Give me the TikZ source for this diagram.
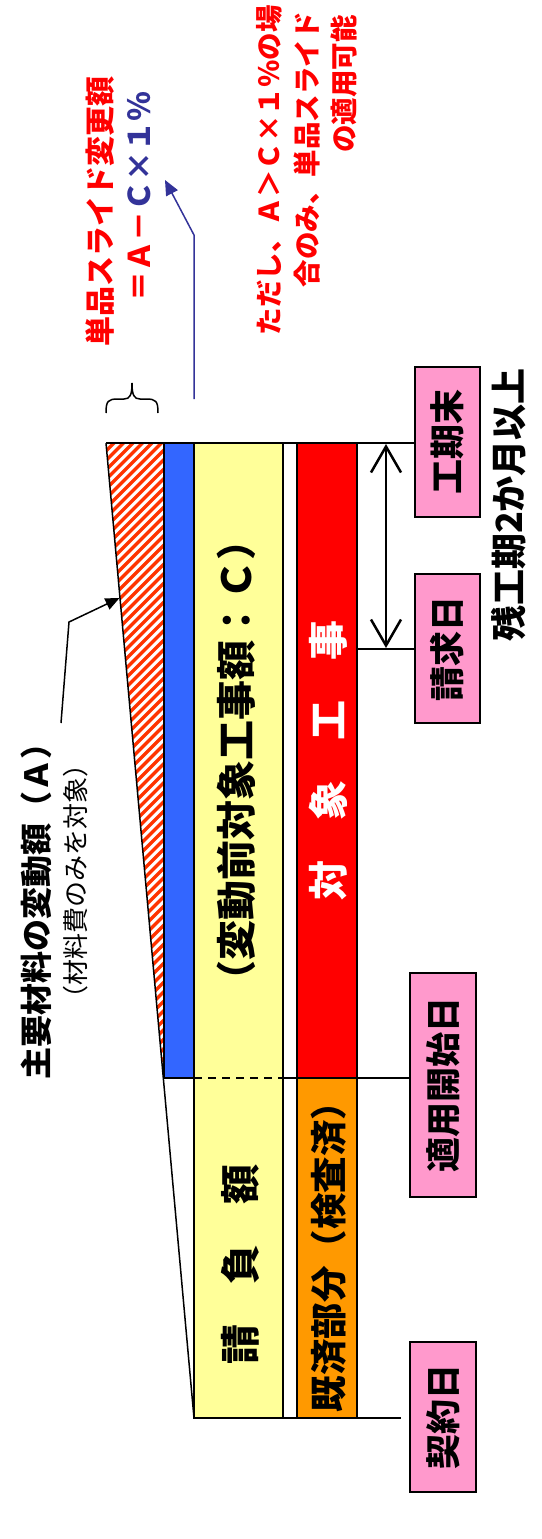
\documentclass[tikz,border=0pt]{standalone}
\usepackage{fontspec}
\IfFontExistsTF{Noto Sans CJK JP Black}
  {\setmainfont{Noto Sans CJK JP}[BoldFont={Noto Sans CJK JP Black}]}
  {\setmainfont{Noto Sans CJK JP}[BoldFont={Noto Sans CJK JP Bold}]}
\usetikzlibrary{arrows.meta}
\definecolor{barblue}{HTML}{3366FF}
\definecolor{baryellow}{HTML}{FFFF99}
\definecolor{barred}{HTML}{FF0000}
\definecolor{barorange}{HTML}{FF9900}
\definecolor{boxpink}{HTML}{FF99CC}
\definecolor{navyblue}{HTML}{333399}
\definecolor{hatchred}{HTML}{FF3300}
\newcommand\jfs[1]{\fontsize{#1pt}{#1pt}\selectfont}
\begin{document}
\begin{tikzpicture}[x=1pt,y=-1pt,
  vt/.style={rotate=90,inner sep=0pt},
  bar/.style={draw=black,line width=2pt},
  tickline/.style={draw=black,line width=2.5pt},
  pinkbox/.style={rotate=90,draw=black,line width=1.5pt,fill=boxpink,inner sep=0pt,font=\bfseries\jfs{35}},
  rednote/.style={vt,anchor=east,font=\bfseries\jfs{27.5},text=red},
  periodarrow/.style={line width=2.5pt,{Straight Barb[length=26pt,width=30pt]}-{Straight Barb[length=26pt,width=30pt]}}
]
\useasboundingbox (0,0) rectangle (541,1539);
\fill[white] (0,0) rectangle (541,1539);

% key coordinates
\coordinate (TL) at (106,443);
\coordinate (BL) at (194,1418);
\coordinate (HB) at (163.3,1078);

% hatched wedge
\begin{scope}
\clip (TL) -- (164,443) -- (HB) -- cycle;
\foreach \k in {0,...,82}{\draw[hatchred,line width=3.4pt] (95,{443+\k*9.5}) -- ++(90,-90);}
\end{scope}

% bars
\draw[bar,fill=barblue] (164,443) rectangle (194,1078);
\draw[bar,fill=baryellow] (194,443) rectangle (283,1418);
\draw[bar,fill=barred] (297,443) rectangle (357,1078);
\draw[bar,fill=barorange] (297,1078) rectangle (357,1418);
\draw[black,line width=1.8pt,dash pattern=on 8pt off 6pt] (194,1078) -- (283,1078);
\draw[line width=1.5pt] (TL) -- (BL);

% pink date boxes
\node[pinkbox,minimum width=150pt,minimum height=65pt] (kouki) at (447.5,442) {工期末};
\node[pinkbox,minimum width=149pt,minimum height=65pt] (seikyu) at (447.5,648.5) {請求日};
\node[pinkbox,minimum width=224pt,minimum height=66pt] (tekiyo) at (443,1085) {適用開始日};
\node[pinkbox,minimum width=150pt,minimum height=66pt] (keiyaku) at (443,1417) {契約日};

% tick lines
\coordinate (kyEnd) at (401,1418);
\draw[tickline] (TL) -- (kouki.north |- TL);
\draw[tickline] (357,649) -- (seikyu.north |- 0,649);
\draw[tickline] (283,1078) -- (tekiyo.north |- 0,1078);
\draw[tickline] (283,1418) -- (kyEnd);

% period arrow
\coordinate (pTop) at (386,444);
\coordinate (pBot) at (386,648);
\draw[periodarrow] (pTop) -- (pBot);
\node[vt,font=\bfseries\jfs{36}] (zan) at (509,505) {残工期2か月以上};

% bar texts
\node[vt,font=\bfseries\jfs{40}] (cText) at (236,760) {（変動前対象工事額：Ｃ）};
\node[vt,font=\bfseries\jfs{40}] (ukeoi) at (240,1264) {請　負　額};
\node[vt,font=\bfseries\jfs{40},text=white] (taisho) at (328,760) {対　象　工　事};
\node[vt,font=\bfseries\jfs{36.5}] (kisai) at (329,1248) {既済部分（検査済）};

% material change label and arrow
\node[vt,font=\bfseries\jfs{32}] (matA) at (36,903) {主要材料の変動額（Ａ）};
\node[vt,font=\jfs{26}] (matNote) at (76,881) {（材料費のみを対象）};
\coordinate (aS) at (61,723);
\coordinate (aB) at (69,622);
\coordinate (aT) at (119.5,598);
\draw[line width=1.5pt,-{Triangle[length=14pt,width=12pt]}] (aS) -- (aB) -- (aT);

% brace
\draw[line width=1.5pt] (106,413) .. controls (106,401) and (108,399) .. (118,399) -- (124,399) .. controls (130,399) and (132,395) .. (132,383) .. controls (132,395) and (134,399) .. (140,399) -- (146,399) .. controls (156,399) and (158,401) .. (158,413);

% slide formula
\node[vt,font=\bfseries\jfs{30},text=red] (slide1) at (100,211.5) {単品スライド変更額};
\node[vt,font=\bfseries\jfs{30}] (slide2) at (139,196.5) {\textcolor{red}{＝Ａ－}\textcolor{navyblue}{Ｃ×１％}};
\coordinate (bS) at (194,399);
\coordinate (bB) at (194,235);
\coordinate (bT) at (165,180);
\draw[navyblue,line width=1.5pt,-{Triangle[length=15pt,width=13pt]}] (bS) -- (bB) -- (bT);

% condition note
\node[rednote] (note1) at (269,5) {ただし、Ａ＞Ｃ×１％の場};
\node[rednote] (note2) at (306.5,12) {合のみ、単品スライド};
\node[rednote] (note3) at (344.5,15) {の適用可能};
\end{tikzpicture}
\end{document}
